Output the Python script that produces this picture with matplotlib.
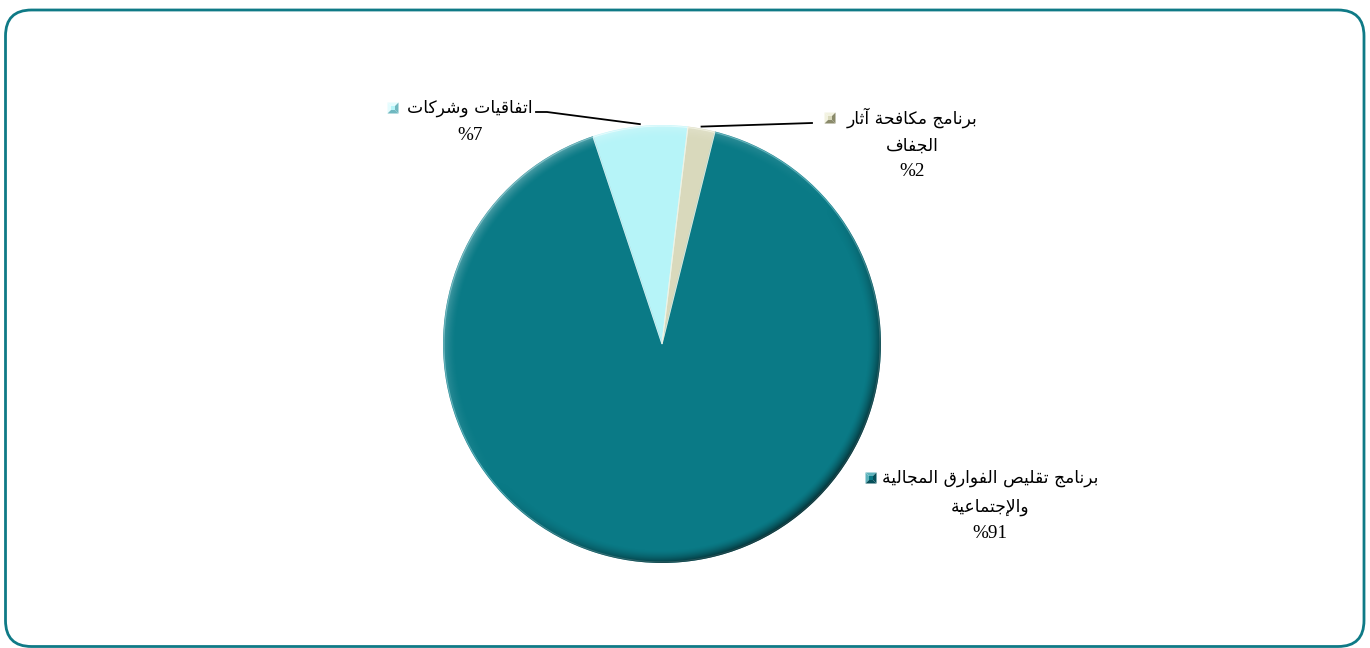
import numpy as np
import matplotlib
matplotlib.use("Agg")
import matplotlib.pyplot as plt
import matplotlib.patches as mpatches

# ---------------- data ----------------
values = [91, 7, 2]
pct_labels = ['%91', '%7', '%2']
label_lines = [
    ['برنامج تقليص الفوارق المجالية', 'والإجتماعية'],
    ['اتفاقيات وشركات'],
    ['برنامج مكافحة آثار', 'الجفاف'],
]
colors = ['#0A7A86', '#B6F4F8', '#D9D9BC']
light_colors = ['#5FB3BC', '#E4FCFE', '#F2F2E0']
dark_colors = ['#06505A', '#6FB8C0', '#8A8A6A']

# ---------------- arabic shaping (no raqm in matplotlib) ----------------
# isolated, final, initial, medial
FORMS = {
    0x0622: (0xFE81, 0xFE82, None, None),
    0x0625: (0xFE87, 0xFE88, None, None),
    0x0627: (0xFE8D, 0xFE8E, None, None),
    0x0628: (0xFE8F, 0xFE90, 0xFE91, 0xFE92),
    0x0629: (0xFE93, 0xFE94, None, None),
    0x062A: (0xFE95, 0xFE96, 0xFE97, 0xFE98),
    0x062B: (0xFE99, 0xFE9A, 0xFE9B, 0xFE9C),
    0x062C: (0xFE9D, 0xFE9E, 0xFE9F, 0xFEA0),
    0x062D: (0xFEA1, 0xFEA2, 0xFEA3, 0xFEA4),
    0x0631: (0xFEAD, 0xFEAE, None, None),
    0x0634: (0xFEB5, 0xFEB6, 0xFEB7, 0xFEB8),
    0x0635: (0xFEB9, 0xFEBA, 0xFEBB, 0xFEBC),
    0x0639: (0xFEC9, 0xFECA, 0xFECB, 0xFECC),
    0x0641: (0xFED1, 0xFED2, 0xFED3, 0xFED4),
    0x0642: (0xFED5, 0xFED6, 0xFED7, 0xFED8),
    0x0643: (0xFED9, 0xFEDA, 0xFEDB, 0xFEDC),
    0x0644: (0xFEDD, 0xFEDE, 0xFEDF, 0xFEE0),
    0x0645: (0xFEE1, 0xFEE2, 0xFEE3, 0xFEE4),
    0x0646: (0xFEE5, 0xFEE6, 0xFEE7, 0xFEE8),
    0x0648: (0xFEED, 0xFEEE, None, None),
    0x064A: (0xFEF1, 0xFEF2, 0xFEF3, 0xFEF4),
}
LAM_ALEF = {0x0622: (0xFEF5, 0xFEF6), 0x0625: (0xFEF9, 0xFEFA),
            0x0627: (0xFEFB, 0xFEFC)}


def shape(text):
    cps = [ord(c) for c in text]
    # merge lam-alef
    units = []
    i = 0
    while i < len(cps):
        if cps[i] == 0x0644 and i + 1 < len(cps) and cps[i + 1] in LAM_ALEF:
            units.append(('la', cps[i + 1]))
            i += 2
        else:
            units.append(('c', cps[i]))
            i += 1

    def joins_next(u):
        return u[0] == 'c' and u[1] in FORMS and FORMS[u[1]][2] is not None

    def is_letter(u):
        return u[0] == 'la' or u[1] in FORMS

    out = []
    for k, u in enumerate(units):
        prev_j = k > 0 and joins_next(units[k - 1]) and is_letter(u)
        next_j = (joins_next(u) and k + 1 < len(units) and is_letter(units[k + 1]))
        if u[0] == 'la':
            iso, fin = LAM_ALEF[u[1]]
            out.append(chr(fin if prev_j else iso))
        elif u[1] in FORMS:
            iso, fin, ini, med = FORMS[u[1]]
            if prev_j and next_j:
                out.append(chr(med))
            elif prev_j:
                out.append(chr(fin))
            elif next_j:
                out.append(chr(ini))
            else:
                out.append(chr(iso))
        else:
            out.append(chr(u[1]))
    return ''.join(out[::-1])


# ---------------- figure ----------------
W, H = 1370, 648
fig = plt.figure(figsize=(13.7, 6.48), dpi=100)
ax = fig.add_axes([0, 0, 1, 1])

# rounded frame
frame = mpatches.FancyBboxPatch((5.5, 1.5), 1358.5, 636.5,
                                boxstyle='round,pad=0,rounding_size=26',
                                facecolor='white', edgecolor='#0F7A86',
                                linewidth=2.0, zorder=0)
ax.add_patch(frame)

cx, cy, R = 662, 648 - 344, 219
start = 76
wedges, _ = ax.pie(values, colors=colors, startangle=start, counterclock=False,
                   center=(cx, cy), radius=R, frame=True,
                   wedgeprops=dict(edgecolor='none', linewidth=0, zorder=2))
ax.set_xlim(0, W)
ax.set_ylim(0, H)
ax.set_aspect('equal')
ax.axis('off')

# thin bevel lines along slice edges
for w, lc in zip(wedges, light_colors):
    ax.add_patch(mpatches.Wedge((cx, cy), R - 1, w.theta1, w.theta2, facecolor='none',
                                edgecolor=lc, linewidth=0.8, alpha=0.8, zorder=3))

# rim shading, light from the upper left
n = 600
xs = np.linspace(cx - R, cx + R, n)
ys = np.linspace(cy - R, cy + R, n)
X, Y = np.meshgrid(xs, ys)
r = np.hypot(X - cx, Y - cy)
th = np.arctan2(Y - cy, X - cx)
d = np.cos(th - np.deg2rad(130))
rim = 13.0
f = np.clip((r - (R - rim)) / rim, 0, 1) ** 1.6
shade = np.zeros((n, n, 4))
pos = np.clip(d, 0, None) * f
neg = np.clip(-d, 0, None) * f
shade[..., :3] = np.where(d[..., None] > 0, 1.0, 0.0)
shade[..., 3] = np.where(d > 0, 0.30 * pos, 0.65 * neg)
img = ax.imshow(shade, extent=(cx - R, cx + R, cy - R, cy + R), origin='lower',
                zorder=4, interpolation='bilinear')
clip = mpatches.Circle((cx, cy), R, transform=ax.transData, facecolor='none',
                       edgecolor='none')
ax.add_patch(clip)
img.set_clip_path(clip)
ax.set_xlim(0, W)
ax.set_ylim(0, H)

ar_font = 'DejaVu Sans'
num_font = 'Liberation Serif'
fs = 12.3


def key_box(x, y, k):
    s = 11
    h = s / 2
    c = colors[k]
    lt, dk = light_colors[k], dark_colors[k]
    x0, x1, y0, y1 = x - h, x + h, y - h, y + h
    ix0, ix1, iy0, iy1 = x - 2, x + 2, y - 2, y + 2
    tris = [
        ([(x0, y1), (x1, y1), (ix1, iy1), (ix0, iy1)], lt),
        ([(x0, y0), (x0, y1), (ix0, iy1), (ix0, iy0)], lt),
        ([(x1, y0), (x1, y1), (ix1, iy1), (ix1, iy0)], dk),
        ([(x0, y0), (x1, y0), (ix1, iy0), (ix0, iy0)], dk),
    ]
    for pts, col in tris:
        ax.add_patch(mpatches.Polygon(pts, closed=True, facecolor=col,
                                      edgecolor='none', zorder=6))
    ax.add_patch(mpatches.Rectangle((ix0, iy0), 4, 4, facecolor=c,
                                    edgecolor='none', zorder=7))


# label layout: (text centre x, first line y from top, key x, line gap)
layout = [
    (990, 478, 871, 29),
    (470, 108, 393, 29),
    (912, 118, 830, 28),
]
for k, (w, lines, pct) in enumerate(zip(wedges, label_lines, pct_labels)):
    tx, ty, kx, gap = layout[k]
    for j, line in enumerate(lines):
        ax.text(tx, H - ty - j * gap, shape(line), fontsize=fs, family=ar_font,
                ha='center', va='center', color='black', zorder=6)
    ax.text(tx, H - ty - len(lines) * gap + 2, pct, fontsize=fs + 1.5, family=num_font,
            ha='center', va='center', color='black', zorder=6)
    key_box(kx, H - ty, k)

# leader lines to the two small slices
ang = np.deg2rad((wedges[1].theta1 + wedges[1].theta2) / 2)
px, py = cx + R * np.cos(ang), cy + R * np.sin(ang)
ax.plot([536, 547, px], [H - 112, H - 112, py + 2], color='black', lw=1.3, zorder=6)

ang = np.deg2rad((wedges[2].theta1 + wedges[2].theta2) / 2)
px, py = cx + R * np.cos(ang), cy + R * np.sin(ang)
ax.plot([px, 812], [py + 2, H - 123], color='black', lw=1.3, zorder=6)

fig.savefig('out.png', dpi=100)
